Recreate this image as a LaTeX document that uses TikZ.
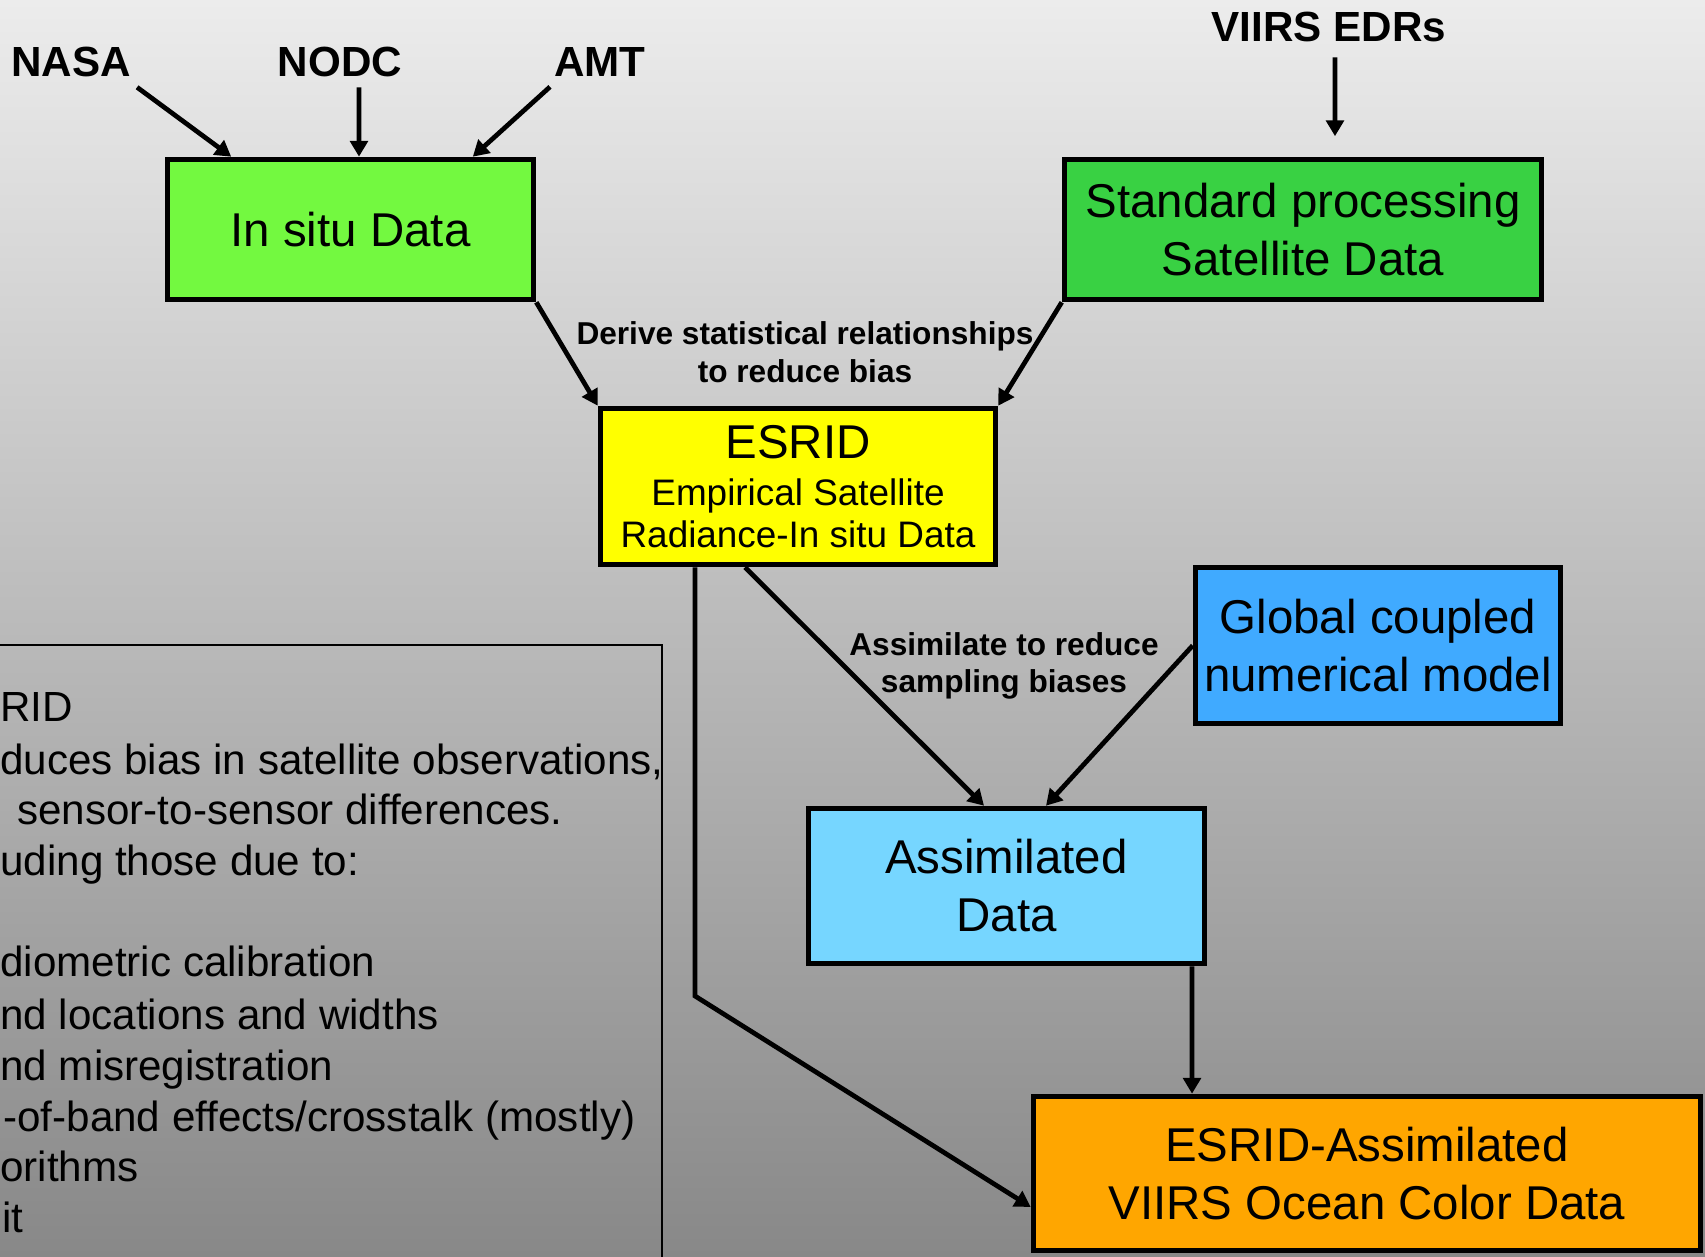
\documentclass[tikz,border=0pt]{standalone}
\usepackage{fontspec}
\setmainfont{Liberation Sans}
\usetikzlibrary{arrows.meta}

\definecolor{bgtop}{RGB}{236,236,236}
\definecolor{bgbottom}{RGB}{136,136,136}
\definecolor{insitugreen}{RGB}{115,249,64}
\definecolor{satgreen}{RGB}{57,209,67}
\definecolor{esridyellow}{RGB}{255,255,0}
\definecolor{modelblue}{RGB}{64,170,255}
\definecolor{assimblue}{RGB}{118,214,255}
\definecolor{finalorange}{RGB}{255,166,0}

\begin{document}
\begin{tikzpicture}[
    x=0.02cm, y=-0.02cm,
    box/.style={draw, line width=3.2pt, align=center, inner sep=0pt, font=\fontsize{27}{33}\selectfont},
    source/.style={inner sep=0pt, font=\bfseries\fontsize{24}{28}\selectfont},
    note/.style={inner sep=0pt, align=center, font=\bfseries\fontsize{18}{21.5}\selectfont},
    legend/.style={inner sep=0pt, anchor=base west, font=\fontsize{24}{28}\selectfont},
    arrow/.style={-{Triangle[length=9pt, width=10pt]}, line width=2.7pt}
]
% Background
\shade[top color=bgtop, bottom color=bgbottom] (0,0) rectangle (1705,1257);
\useasboundingbox (0,0) rectangle (1705,1257);

% Sources
\node[source] (nasa) at (71,62) {NASA};
\node[source] (nodc) at (340,62) {NODC};
\node[source] (amt) at (600,62) {AMT};
\node[source] (edrs) at (1329,27) {VIIRS EDRs};

% Data boxes
\node[box, fill=insitugreen, minimum width=7.32cm, minimum height=2.8cm] (insitu) at (350.5,229.5) {In situ Data};
\node[box, fill=satgreen, minimum width=9.54cm, minimum height=2.8cm] (standard) at (1303,229.5) {Standard processing\\Satellite Data};
\node[box, fill=esridyellow, minimum width=7.9cm, minimum height=3.12cm, font=\fontsize{21}{24}\selectfont] (esrid) at (798,486.5) {{\fontsize{27}{27}\selectfont ESRID}\\[3pt]Empirical Satellite\\Radiance-In situ Data};
\node[box, fill=modelblue, minimum width=7.3cm, minimum height=3.12cm] (model) at (1378,645.5) {Global coupled\\numerical model};
\node[box, fill=assimblue, minimum width=7.92cm, minimum height=3.1cm] (assim) at (1006.5,886) {Assimilated\\Data};
\node[box, fill=finalorange, minimum width=13.34cm, minimum height=3.08cm] (final) at (1367,1173.5) {ESRID-Assimilated\\VIIRS Ocean Color Data};

% Edge notes
\node[note] (derive) at (805,352) {Derive statistical relationships\\to reduce bias};
\node[note] (sampling) at (1004,666) {Assimilate to reduce\\sampling biases};

% Side panel
\draw[line width=1.7pt] (-10,645) rectangle (662,1300);
\node[legend] (l1) at (0,721) {RID};
\node[legend] (l2) at (0,774) {duces bias in satellite observations,};
\node[legend] (l3) at (17,824) {sensor-to-sensor differences.};
\node[legend] (l4) at (0,875) {uding those due to:};
\node[legend] (l5) at (0,976) {diometric calibration};
\node[legend] (l6) at (0,1029) {nd locations and widths};
\node[legend] (l7) at (0,1080) {nd misregistration};
\node[legend] (l8) at (3,1131) {-of-band effects/crosstalk (mostly)};
\node[legend] (l9) at (0,1181) {orithms};
\node[legend] (l10) at (2,1232) {it};

% Inputs
\draw[arrow] ([shift={(0.12cm,-0.2cm)}]nasa.south east) -- ([xshift=1.33cm]insitu.north west);
\draw[arrow] ([shift={(0.38cm,-0.2cm)}]nodc.south) -- ([xshift=0.17cm]insitu.north);
\draw[arrow] ([shift={(-0.08cm,-0.2cm)}]amt.south west) -- ([xshift=-1.27cm]insitu.north east);
\draw[arrow] ([shift={(0.12cm,-0.3cm)}]edrs.south) -- ([shift={(0.64cm,0.41cm)}]standard.north);

% Into ESRID
\draw[arrow] (insitu.south east) -- (esrid.north west);
\draw[arrow] (standard.south west) -- (esrid.north east);

% Assimilation
\draw[arrow] ([xshift=-1.06cm]esrid.south) -- ([xshift=-0.45cm]assim.north);
\draw[arrow] (model.west) -- ([xshift=0.79cm]assim.north);

% Final product
\draw[arrow] ([xshift=3.71cm]assim.south) -- ([xshift=-3.5cm]final.north);
\coordinate (kink) at (695,996);
\draw[arrow] (esrid.south -| kink) -- (kink) -- ([yshift=-0.67cm]final.west);
\end{tikzpicture}
\end{document}
